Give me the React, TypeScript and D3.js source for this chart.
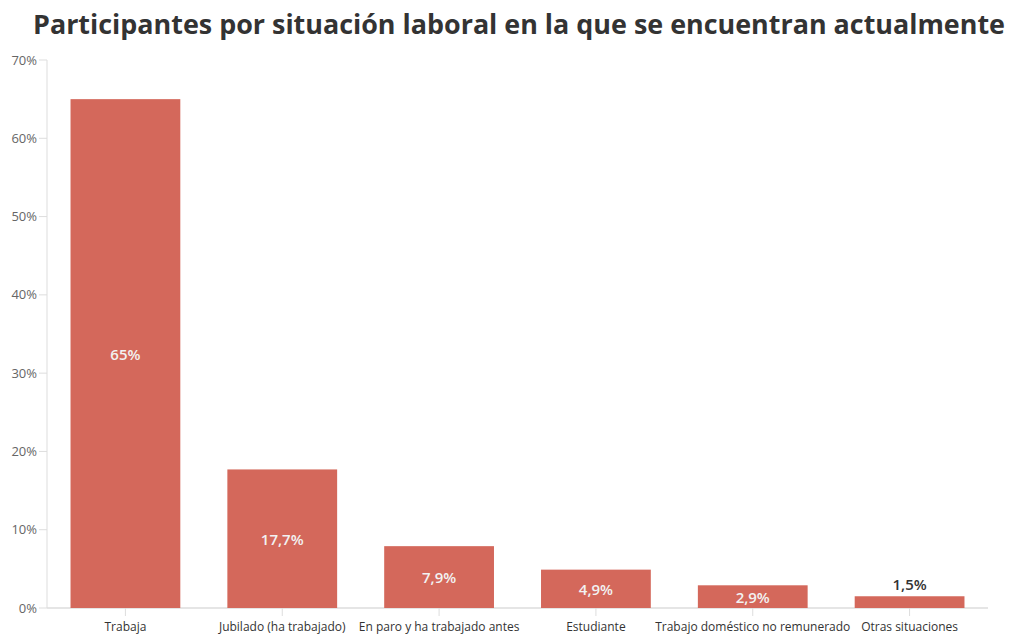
import React from "react";
import * as d3 from "d3";

const categories = [
  "Trabaja",
  "Jubilado (ha trabajado)",
  "En paro y ha trabajado antes",
  "Estudiante",
  "Trabajo doméstico no remunerado",
  "Otras situaciones",
];
const values = [65, 17.7, 7.9, 4.9, 2.9, 1.5];
const valueLabels = ["65%", "17,7%", "7,9%", "4,9%", "2,9%", "1,5%"];
const yTicks = [0, 10, 20, 30, 40, 50, 60, 70];
const title = "Participantes por situación laboral en la que se encuentran actualmente";

const W = 1011;
const H = 635;
const margin = { top: 60, right: 23, bottom: 27, left: 47 };
const FONT = "'Open Sans', 'Noto Sans', sans-serif";

export default function App() {
  const x = d3
    .scaleBand<string>()
    .domain(categories)
    .range([margin.left, W - margin.right])
    .paddingInner(0.3)
    .paddingOuter(0.15);
  const y = d3.scaleLinear().domain([0, 70]).range([H - margin.bottom, margin.top]);
  const y0 = y(0);

  return (
    <svg
      width={W}
      height={H}
      style={{ position: "absolute", left: 0, top: 0, background: "#fff" }}
      fontFamily={FONT}
    >
      <text
        x={519}
        y={34}
        textAnchor="middle"
        fontSize={26}
        fontWeight={700}
        fill="#333"
        textLength={972}
        lengthAdjust="spacingAndGlyphs"
      >
        {title}
      </text>
      {/* y axis */}
      <line x1={margin.left} x2={margin.left} y1={y(70)} y2={y0} stroke="#ddd" strokeWidth={1} />
      {yTicks.map((t) => (
        <g key={t}>
          <line x1={margin.left - 8} x2={margin.left} y1={y(t)} y2={y(t)} stroke="#ddd" />
          <text
            x={margin.left - 10}
            y={y(t)}
            dy="0.35em"
            textAnchor="end"
            fontSize={13}
            fill="#666"
          >
            {t}%
          </text>
        </g>
      ))}
      {/* x axis */}
      <line x1={margin.left} x2={W - margin.right} y1={y0} y2={y0} stroke="#ddd" strokeWidth={1.5} />
      {categories.map((c, i) => {
        const bx = x(c)!;
        const bw = x.bandwidth();
        const cx = bx + bw / 2;
        const v = values[i];
        const top = y(v);
        const h = y0 - top;
        const inside = h > 18;
        return (
          <g key={c}>
            <rect x={bx} y={top} width={bw} height={h} fill="#D4685B" />
            <line x1={cx} x2={cx} y1={y0} y2={y0 + 8} stroke="#ddd" />
            <text x={cx} y={H - 4} textAnchor="middle" fontSize={12} fill="#333">
              {c}
            </text>
            <text
              x={cx}
              y={inside ? (top + y0) / 2 + 1 : top - 12}
              dy="0.35em"
              textAnchor="middle"
              fontSize={15}
              fontWeight={600}
              fill={inside ? "#f2f2f2" : "#333"}
            >
              {valueLabels[i]}
            </text>
          </g>
        );
      })}
    </svg>
  );
}
